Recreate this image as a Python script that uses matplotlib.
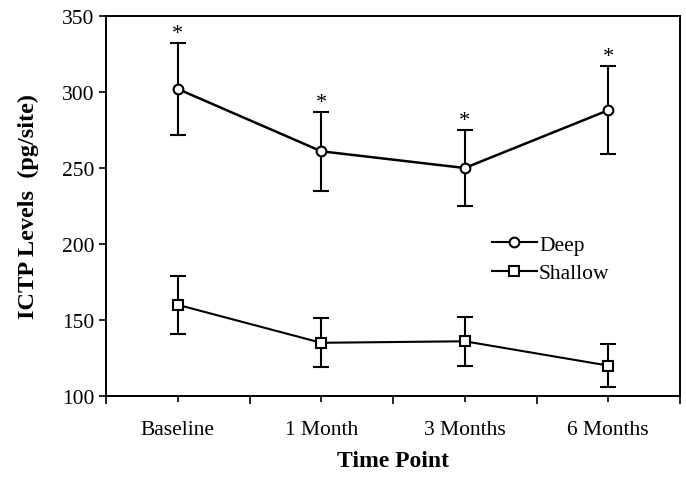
import numpy as np
import matplotlib
matplotlib.use("Agg")
import matplotlib.pyplot as plt
from matplotlib.lines import Line2D
from matplotlib.ticker import FixedLocator, MultipleLocator

# === Data ===
time_points = ["Baseline", "1 Month", "3 Months", "6 Months"]
deep_mean = [302, 261, 250, 288]
deep_err = [30, 26, 25, 29]
shallow_mean = [160, 135, 136, 120]
shallow_err = [19, 16, 16, 14]
deep_signif = [True, True, True, True]

plt.rcParams["font.family"] = ["Liberation Serif", "DejaVu Serif"]

fig = plt.figure(figsize=(6.86, 4.85), dpi=100)
ax = fig.add_axes([106 / 686, 1 - 397 / 485, 574 / 686, 380 / 485])

x = np.arange(len(time_points))

deep_style = dict(color="black", marker="o", ms=7, mfc="white", mec="black", mew=1.5)
shallow_style = dict(color="black", marker="s", ms=6.5, mfc="white", mec="black", mew=1.5)

ax.errorbar(x, deep_mean, yerr=deep_err, lw=1.8, capsize=6, capthick=1.5,
            elinewidth=1.5, **deep_style)
ax.errorbar(x, shallow_mean, yerr=shallow_err, lw=1.5, capsize=6, capthick=1.5,
            elinewidth=1.5, **shallow_style)

# significance stars above the deep error bars
for xi, m, e, s in zip(x, deep_mean, deep_err, deep_signif):
    if s:
        ax.annotate("*", (xi, m + e), xytext=(0, 0), textcoords="offset points",
                    ha="center", va="bottom", fontsize=16)

ax.set_xlim(-0.5, len(time_points) - 0.5)
ax.set_ylim(100, 350)
ax.yaxis.set_major_locator(MultipleLocator(50))

ax.set_xticks(x)
ax.set_xticklabels(time_points)
ax.xaxis.set_minor_locator(FixedLocator(np.arange(-0.5, len(time_points), 1.0)))
ax.tick_params(axis="x", which="major", direction="out", length=4, width=1.2,
               labelsize=15.5, pad=13)
ax.tick_params(axis="x", which="minor", direction="out", length=6, width=1.2)
ax.tick_params(axis="y", which="major", direction="out", length=5, width=1.2,
               labelsize=15.5)

for sp in ax.spines.values():
    sp.set_linewidth(1.4)

ax.set_xlabel("Time Point", fontsize=17, fontweight="bold", labelpad=8)
ax.set_ylabel("ICTP Levels  (pg/site)", fontsize=17.5, fontweight="bold", labelpad=16)

handles = [Line2D([], [], lw=1.5, **deep_style), Line2D([], [], lw=1.5, **shallow_style)]
ax.legend(handles, ["Deep", "Shallow"], loc="upper left",
          bbox_to_anchor=(0.672, 0.425), frameon=False, fontsize=15.5,
          handlelength=2.1, handletextpad=0.1, labelspacing=0.4,
          borderaxespad=0, borderpad=0)

fig.savefig("out.png", dpi=100)
